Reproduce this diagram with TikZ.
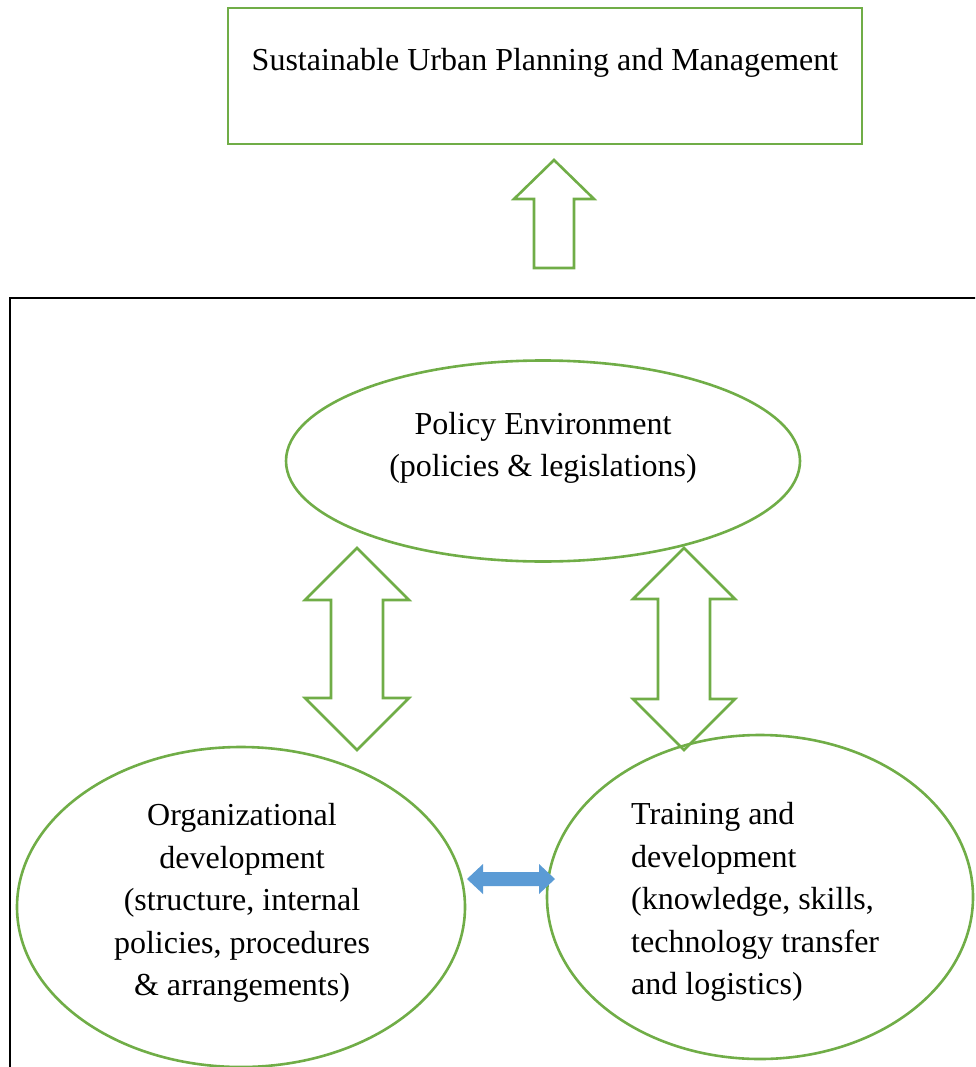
\documentclass[tikz,border=0pt]{standalone}
\usepackage{fontspec}
\setmainfont{Liberation Serif}
\usetikzlibrary{shapes.geometric}
\definecolor{leafgreen}{HTML}{70AD47}
\definecolor{skyblue}{HTML}{5B9BD5}

\begin{document}
\begin{tikzpicture}[x=1pt,y=-1pt,
  outline/.style={draw=leafgreen, line width=2.6pt, line join=miter},
  bubble/.style={outline, ellipse, inner sep=0pt, outer sep=0pt},
  caption/.style={font=\fontsize{32}{42.5}\selectfont, inner sep=0pt},
]
\useasboundingbox (0,0) rectangle (975,1067);
\begin{scope}
\clip (0,0) rectangle (975,1067);

% goal box at the top
\node[outline, rectangle, minimum width=634, minimum height=136, inner sep=0pt] (goal) at (545,76) {};
\node[caption, anchor=base] (goaltext) at (545,71) {Sustainable Urban Planning and Management};

% frame around the capacity-building components
\draw[line width=2.4pt] (10,1090) -- (10,298) -- (990,298);

% upward block arrow feeding the goal
\coordinate (uptip) at (554,160);
\draw[outline] (uptip) -- ++(40,39) -- ++(-20,0) -- ++(0,69) -- ++(-40,0)
  -- ++(0,-69) -- ++(-20,0) -- cycle;

% the three components
\node[bubble, minimum width=514, minimum height=201] (policy) at (543,461) {};
\node[bubble, minimum width=448, minimum height=320] (org) at (241,907) {};
\node[bubble, minimum width=426, minimum height=324] (train) at (760,897) {};

\node[caption, align=center] (policytext) at (543,448)
  {Policy Environment\\(policies \& legislations)};
\node[caption, align=center] (orgtext) at (242,903)
  {Organizational\\development\\(structure, internal\\policies, procedures\\\& arrangements)};
\node[caption, align=left, anchor=west] (traintext) at (631,902)
  {Training and\\development\\(knowledge, skills,\\technology transfer\\and logistics)};

% two-way block arrows between policy and the lower components
\coordinate (lefttip) at (357,548);
\draw[outline] (lefttip) -- ++(52,52) -- ++(-26,0) -- ++(0,98) -- ++(26,0)
  -- ++(-52,52) -- ++(-52,-52) -- ++(26,0) -- ++(0,-98) -- ++(-26,0) -- cycle;
\coordinate (righttip) at (684,548);
\draw[outline] (righttip) -- ++(51,51) -- ++(-25,0) -- ++(0,100) -- ++(25,0)
  -- ++(-51,51) -- ++(-51,-51) -- ++(25,0) -- ++(0,-100) -- ++(-25,0) -- cycle;

% two-way link between the lower components
\coordinate (linkend) at (467,879);
\fill[skyblue] (linkend) -- ++(16,-15) -- ++(0,8) -- ++(56,0) -- ++(0,-8)
  -- ++(16,15) -- ++(-16,15) -- ++(0,-8) -- ++(-56,0) -- ++(0,8) -- cycle;
\end{scope}
\end{tikzpicture}
\end{document}
